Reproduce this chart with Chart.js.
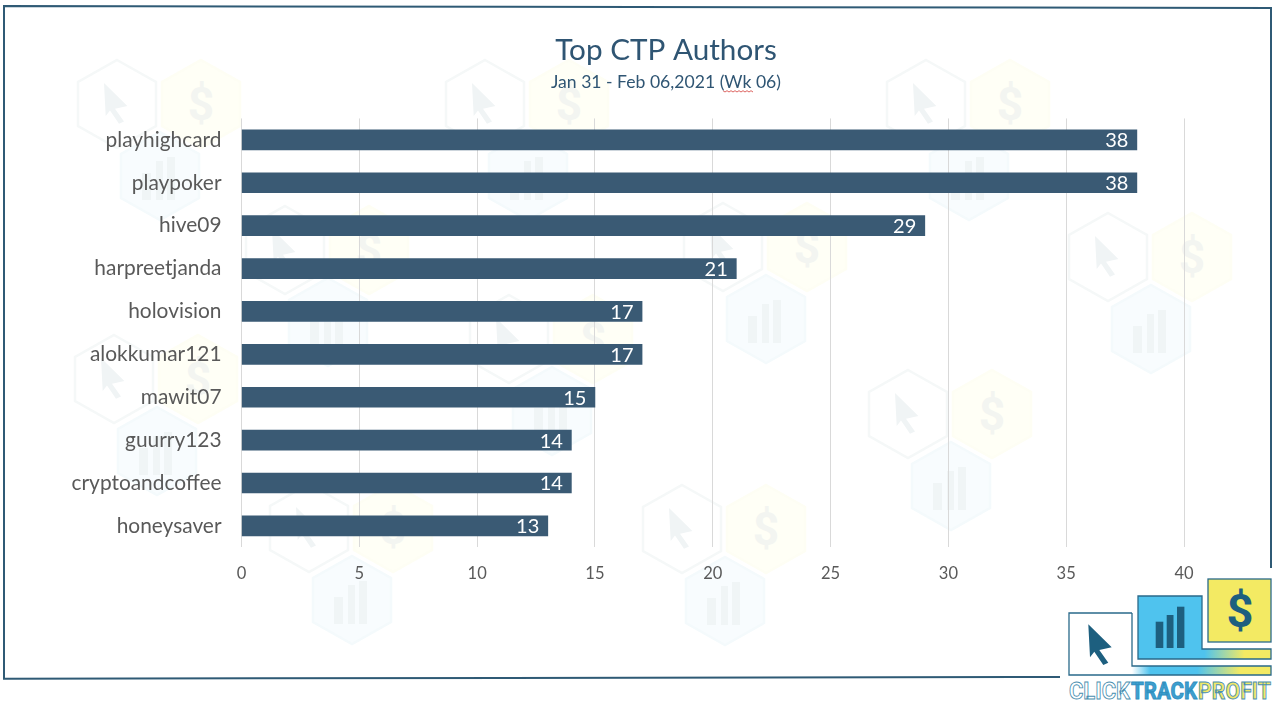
<!DOCTYPE html>
<html>
<head>
<meta charset="utf-8">
<title>Top CTP Authors</title>
<script src="https://cdn.jsdelivr.net/npm/chart.js@4"></script>
<style>
html,body{margin:0;padding:0;background:#fff;width:1280px;height:714px;overflow:hidden}
#bg{position:absolute;left:0;top:0}
#wrap{position:absolute;left:52px;top:0;width:1228px;height:714px}
</style>
</head>
<body>
<svg id="bg" width="1280" height="714" viewBox="0 0 1280 714" xmlns="http://www.w3.org/2000/svg"></svg>
<div id="wrap"><canvas id="c" width="1228" height="714"></canvas></div>
<script>
const categories = ["playhighcard","playpoker","hive09","harpreetjanda","holovision","alokkumar121","mawit07","guurry123","cryptoandcoffee","honeysaver"];
const posts = [38,38,29,21,17,17,15,14,14,13];
const xTickStep = 5;
const xMax = 40;
const chartTitle = "Top CTP Authors";
const chartSubtitle = "Jan 31 - Feb 06,2021 (Wk 06)";

const FONT = "Lato";
const cursorShape = [[0,0],[23.4,23],[11,25.7],[20,38.4],[15,40.7],[6,27.4],[1.7,33]];
function hexPts(cx,cy,rx,ry){
  return [[cx,cy-ry],[cx+rx,cy-ry/2],[cx+rx,cy+ry/2],[cx,cy+ry],[cx-rx,cy+ry/2],[cx-rx,cy-ry/2]].map(p=>p.join(",")).join(" ");
}
function cursorPts(x,y){return cursorShape.map(p=>[p[0]+x,p[1]+y].join(",")).join(" ");}
function cluster(x,y){
  const ic="#f0f4f5";
  let s="";
  s+=`<polygon points="${hexPts(x,y,39,44)}" fill="#fff" stroke="#f5f8f8" stroke-width="2.5"/>`;
  s+=`<polygon points="${cursorPts(x-13,y-21)}" fill="${ic}"/>`;
  s+=`<polygon points="${hexPts(x+84,y,39,44)}" fill="#fffff6" stroke="#fefef4" stroke-width="2.5"/>`;
  s+=`<text x="${x+84}" y="${y+16}" text-anchor="middle" font-family="Roboto" font-weight="700" font-size="46" fill="#f3f5f1">$</text>`;
  s+=`<polygon points="${hexPts(x+43,y+72,39,44)}" fill="#f8fcfe" stroke="#f4fafc" stroke-width="2.5"/>`;
  [[-18,9,-3],[-4,7,-15],[7,8,-19]].forEach(b=>{
    s+=`<rect x="${x+43+b[0]}" y="${y+72+b[2]}" width="${b[1]}" height="${24-b[2]}" fill="#f0f5f6"/>`;
  });
  return s;
}
const watermarkClusters = [[117,104],[485,104],[926,104],[723,247],[1108,257],[114,379],[285,250],[509,339],[309,528],[682,529],[908,414]];
let svg = watermarkClusters.map(c=>cluster(c[0],c[1])).join("");

/* frame */
const FR="#2f5a75";
svg+=`<polyline points="1271,8 4,6 4,678.7 1060,677" fill="none" stroke="${FR}" stroke-width="2"/>`;
svg+=`<line x1="1271" y1="7" x2="1271" y2="568" stroke="${FR}" stroke-width="2"/>`;

/* spell-check squiggle */
let sq="";for(let i=0;i<=15;i++){sq+=`${723+i*2},${91+(i%2?1:-0.3)} `;}
svg+=`<polyline points="${sq}" fill="none" stroke="#d9534f" stroke-width="0.9"/>`;

/* logo */
svg+=`<defs>
<linearGradient id="g1" x1="0" x2="1"><stop offset="0" stop-color="#4fc3ee"/><stop offset="0.5" stop-color="#4fc3ee"/><stop offset="0.8" stop-color="#f3ea63"/><stop offset="1" stop-color="#f3ea63"/></linearGradient>
<linearGradient id="g2" x1="0" x2="1"><stop offset="0" stop-color="#ffffff"/><stop offset="0.13" stop-color="#4fc3ee"/><stop offset="0.47" stop-color="#4fc3ee"/><stop offset="0.78" stop-color="#f3ea63"/><stop offset="1" stop-color="#f3ea63"/></linearGradient>
</defs>`;
const LB="#2a6a8a";
svg+=`<rect x="1132" y="666" width="139" height="9" fill="url(#g2)"/>`;
svg+=`<rect x="1069" y="613" width="63" height="62" fill="#fff"/>`;
svg+=`<path d="M1132 613 V666 H1271 V675 H1069 V613 H1132" fill="none" stroke="${LB}" stroke-width="1.3"/>`;
svg+=`<rect x="1138" y="649" width="133" height="10" fill="url(#g1)"/>`;
svg+=`<rect x="1138" y="596" width="64" height="63" fill="#4fc3ee"/>`;
svg+=`<path d="M1138 596 H1202 V649 H1271 V659 H1138 Z" fill="none" stroke="${LB}" stroke-width="1.3"/>`;
svg+=`<rect x="1208" y="579" width="63" height="63" fill="#f3ea63" stroke="${LB}" stroke-width="1.3"/>`;
svg+=`<polygon points="${cursorPts(1088.3,624.3)}" fill="#1d5f7f"/>`;
[[1155.7,621.7,7.6],[1166.7,615,6.8],[1177,606.7,7.4]].forEach(b=>{svg+=`<rect x="${b[0]}" y="${b[1]}" width="${b[2]}" height="${648-b[1]}" fill="#1d5f7f"/>`;});
svg+=`<text x="1240" y="627" text-anchor="middle" font-family="Roboto" font-weight="700" font-size="47" fill="#1d5f7f">$</text>`;
const logoStyle=`font-family="Roboto" font-weight="700" font-size="24" lengthAdjust="spacingAndGlyphs" stroke-width="0.9"`;
svg+=`<text x="1069" y="699" textLength="61" ${logoStyle} fill="#fff" stroke="#4a8fb0">CLICK</text>`;
svg+=`<text x="1131" y="699" textLength="66" ${logoStyle} fill="#3e9fcf" stroke="#2f8fbf">TRACK</text>`;
svg+=`<text x="1198" y="699" textLength="73" ${logoStyle} fill="#f0e86a" stroke="#4a8fb0">PROFIT</text>`;
document.getElementById("bg").innerHTML = svg;

const valueLabels = {
  id:"valueLabels",
  afterDatasetsDraw(chart){
    const ctx=chart.ctx, meta=chart.getDatasetMeta(0);
    ctx.save();
    ctx.font=`20px ${FONT}`;
    ctx.fillStyle="#ffffff";
    ctx.textAlign="right";
    ctx.textBaseline="middle";
    meta.data.forEach((el,i)=>{ctx.fillText(String(posts[i]),el.x-8.5,el.y+1);});
    ctx.restore();
  }
};

new Chart(document.getElementById("c"),{
  type:"bar",
  data:{labels:categories,datasets:[{data:posts,backgroundColor:"#3a5a74",barThickness:20,borderWidth:0,xAxisID:"x",yAxisID:"y"}]},
  plugins:[valueLabels],
  options:{
    indexAxis:"y",
    responsive:false,
    animation:false,
    devicePixelRatio:1,
    layout:{padding:{top:33,right:0,left:0,bottom:0}},
    plugins:{
      legend:{display:false},
      tooltip:{enabled:false},
      title:{display:true,text:chartTitle,color:"#2f5573",font:{family:FONT,size:29.7,weight:"normal"},padding:{top:0,bottom:3}},
      subtitle:{display:true,text:chartSubtitle,color:"#2f5573",font:{family:FONT,size:17.6,weight:"normal"},padding:{top:0,bottom:25.7}}
    },
    scales:{
      x:{
        min:0,max:xMax,
        ticks:{stepSize:xTickStep,color:"#595959",font:{family:FONT,size:16.5},padding:16,maxRotation:0},
        grid:{color:"#d9d9d9",lineWidth:1,drawTicks:false},
        border:{display:false},
        afterFit(s){s.height=166.7;}
      },
      y:{
        ticks:{color:"#595959",font:{family:FONT,size:20.9},padding:20,autoSkip:false},
        grid:{display:false,drawTicks:false},
        border:{display:false},
        afterFit(s){s.width=189.5;}
      },
      rightGutter:{
        type:"linear",
        position:"right",
        ticks:{display:false},
        grid:{display:false,drawTicks:false},
        border:{display:false},
        afterFit(s){s.width=96;}
      }
    }
  }
});
</script>
</body>
</html>
